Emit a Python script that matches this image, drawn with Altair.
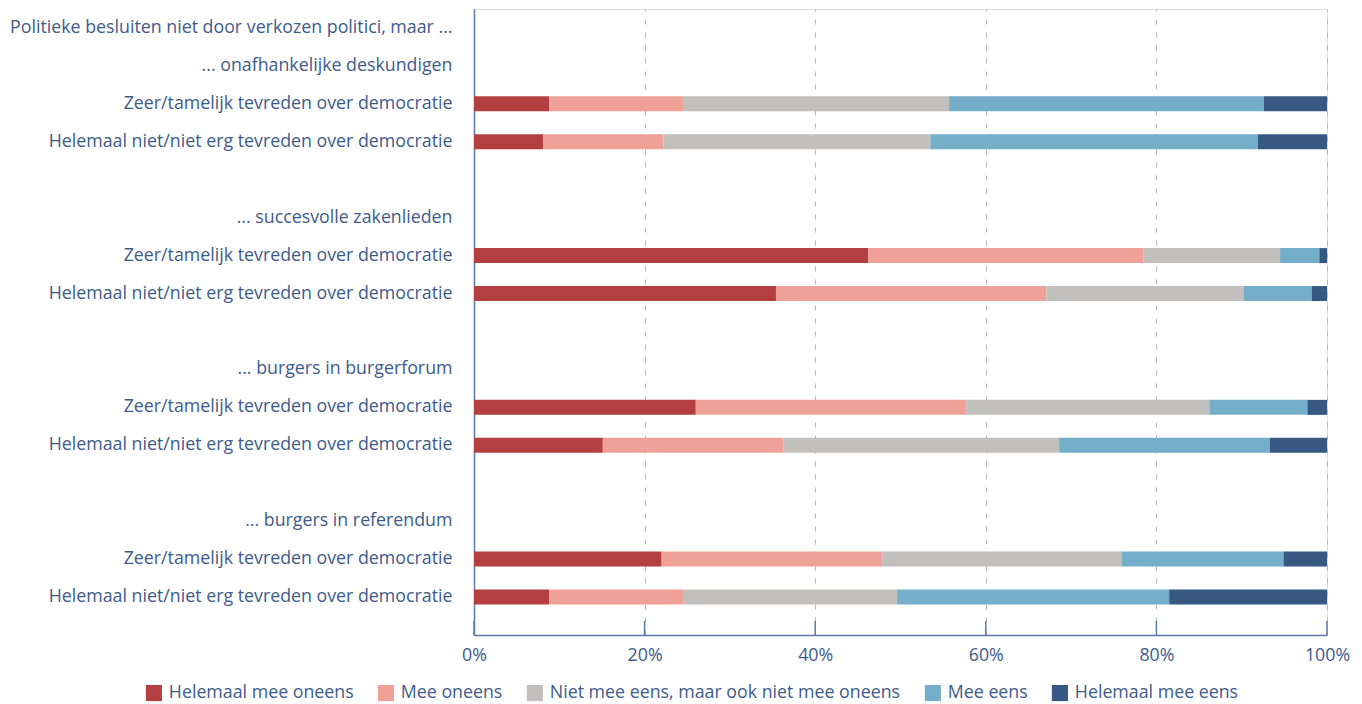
import json
import altair as alt
import pandas as pd

# Row labels (top to bottom); blank rows are spacers
row_labels = [
    "Politieke besluiten niet door verkozen politici, maar ...",
    "... onafhankelijke deskundigen",
    "Zeer/tamelijk tevreden over democratie",
    "Helemaal niet/niet erg tevreden over democratie",
    "",
    "... succesvolle zakenlieden ",
    "Zeer/tamelijk tevreden over democratie",
    "Helemaal niet/niet erg tevreden over democratie",
    "",
    "... burgers in burgerforum",
    "Zeer/tamelijk tevreden over democratie",
    "Helemaal niet/niet erg tevreden over democratie",
    "",
    "... burgers in referendum",
    "Zeer/tamelijk tevreden over democratie",
    "Helemaal niet/niet erg tevreden over democratie",
]

categories = [
    "Helemaal mee oneens",
    "Mee oneens",
    "Niet mee eens, maar ook niet mee oneens",
    "Mee eens",
    "Helemaal mee eens",
]
colors = ["#b33f40", "#f0a197", "#c1c0be", "#75aec9", "#365882"]

# rows that carry bars (index into row_labels)
bar_rows = [2, 3, 6, 7, 10, 11, 14, 15]
helemaal_mee_oneens = [8.8, 8.1, 46.2, 35.4, 26.0, 15.1, 22.0, 8.8]
mee_oneens = [15.7, 14.1, 32.3, 31.7, 31.7, 21.2, 25.9, 15.7]
neutraal = [31.2, 31.3, 16.0, 23.1, 28.5, 32.3, 28.0, 25.1]
mee_eens = [36.9, 38.4, 4.6, 8.0, 11.5, 24.7, 19.0, 31.9]
helemaal_mee_eens = [7.4, 8.1, 0.9, 1.8, 2.3, 6.7, 5.1, 18.5]

tick_values = [0, 20, 40, 60, 80, 100]

series = [helemaal_mee_oneens, mee_oneens, neutraal, mee_eens, helemaal_mee_eens]
row_ids = [f"{i:02d}" for i in range(len(row_labels))]

records = []
for ci, (cat, vals) in enumerate(zip(categories, series)):
    for r, v in zip(bar_rows, vals):
        records.append({"row": row_ids[r], "cat": cat, "order": ci, "value": v})
df = pd.DataFrame(records)

W, H = 853, 626
FONT = "Open Sans"
FS = 17.8
TXT = "#3e5b8a"
AX = "#5b79a6"

label_expr = json.dumps(row_labels) + "[toNumber(datum.value)]"

bars = alt.Chart(df).mark_bar(size=15).encode(
    x=alt.X(
        "sum(value):Q",
        stack="zero",
        scale=alt.Scale(domain=[0, 100], nice=False, zero=True),
        axis=alt.Axis(
            values=tick_values,
            labelExpr="datum.value + '%'",
            title=None,
            ticks=False,
            grid=True,
            gridDash=[5, 8],
            gridColor="#b5b5b5",
            gridWidth=1,
            domainColor=AX,
            domainWidth=1.5,
            labelColor=TXT,
            labelFont=FONT,
            labelFontSize=FS,
            labelPadding=11,
            labelFlush=False,
        ),
    ),
    y=alt.Y(
        "row:O",
        scale=alt.Scale(domain=row_ids, paddingInner=0, paddingOuter=0.25, align=0),
        axis=alt.Axis(
            title=None,
            ticks=False,
            labelExpr=label_expr,
            labelColor=TXT,
            labelFont=FONT,
            labelFontSize=FS,
            labelPadding=22,
            labelLimit=0,
            domainColor=AX,
            domainWidth=1.5,
        ),
    ),
    color=alt.Color(
        "cat:N",
        scale=alt.Scale(domain=categories, range=colors),
        legend=alt.Legend(
            title=None,
            orient="none",
            direction="horizontal",
            legendX=-329,
            legendY=675,
            symbolType="square",
            symbolSize=260,
            symbolStrokeWidth=0,
            labelFont=FONT,
            labelFontSize=FS,
            labelColor=TXT,
            labelOffset=6,
            columnPadding=23,
            labelLimit=0,
        ),
    ),
    order=alt.Order("order:Q"),
)

ticks_df = pd.DataFrame({"t": tick_values})
ticks = alt.Chart(ticks_df).mark_rule(color=AX, strokeWidth=1.5).encode(
    x=alt.X("t:Q", scale=alt.Scale(domain=[0, 100], nice=False)),
    y=alt.value(H - 14),
    y2=alt.value(H),
)

chart = alt.layer(bars, ticks).properties(
    width=W,
    height=H,
    autosize=alt.AutoSizeParams(type="none"),
    padding={"left": 466, "top": 1, "right": 27, "bottom": 70},
).configure_view(stroke=None).configure(background="white")

chart.save("out.html", embed_options={"renderer": "svg", "actions": False})
